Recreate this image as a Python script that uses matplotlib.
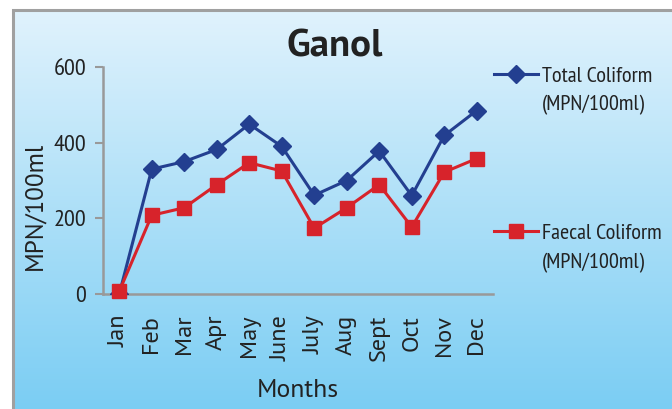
import numpy as np
import matplotlib
matplotlib.use('Agg')
import matplotlib.pyplot as plt
from matplotlib.patches import Rectangle

plt.rcParams['font.family'] = ['PT Sans', 'DejaVu Sans']
narrow = ['PT Sans Narrow', 'DejaVu Sans']

# Data
months = ['Jan', 'Feb', 'Mar', 'Apr', 'May', 'June', 'July', 'Aug', 'Sept', 'Oct', 'Nov', 'Dec']
total_coliform = [0, 330, 350, 382, 449, 390, 261, 300, 378, 260, 419, 485]
faecal_coliform = [7, 208, 228, 289, 347, 325, 174, 228, 289, 177, 322, 358]
series_names = ['Total Coliform', 'Faecal Coliform']
unit = '(MPN/100ml)'

fig = plt.figure(figsize=(6.72, 4.09), dpi=100)

# gradient background panel (runs off the right and bottom edges)
bg = fig.add_axes([13 / 672, -0.1, 1.1, 1.1 - 10 / 409])
grad = np.linspace(0, 1, 256).reshape(-1, 1)
top = np.array([0.88, 0.95, 0.99])
bottom = np.array([0.44, 0.79, 0.95])
img = top + grad[:, :, None] * (bottom - top)
bg.imshow(img, aspect='auto', extent=[0, 1, 0, 1], origin='upper')
bg.add_patch(Rectangle((0, 0), 1, 1, fill=False, edgecolor='#a0a0a0', lw=2.2,
                       transform=bg.transAxes, clip_on=False))
bg.set_axis_off()

ax = fig.add_axes([103 / 672, 1 - 294 / 409, 390 / 672, 227 / 409])
ax.patch.set_alpha(0)
x = np.arange(len(months))
l1, = ax.plot(x, total_coliform, color='#233f90', lw=2.2, marker='D', markersize=9.5,
              zorder=3)
l2, = ax.plot(x, faecal_coliform, color='#d7232b', lw=2.2, marker='s', markersize=10,
              zorder=4, clip_on=False)

ax.set_xlim(-0.5, 11.5)
ax.set_ylim(0, 600)
ax.set_yticks([0, 200, 400, 600])
ax.set_yticklabels(['0', '200', '400', '600'], family=narrow)
ax.set_xticks(x)
ax.set_xticklabels(months, rotation=90, fontsize=17.5, color='#222222')
ax.tick_params(axis='x', length=0, pad=15)
ax.tick_params(axis='y', length=6, width=1.5, color='#999999', labelsize=17.5,
               labelcolor='#222222', pad=6)
for s in ['top', 'right']:
    ax.spines[s].set_visible(False)
for s in ['left', 'bottom']:
    ax.spines[s].set_color('#999999')
    ax.spines[s].set_linewidth(1.8)

ax.set_ylabel('MPN/100ml', fontsize=18, color='#222222')
ax.yaxis.set_label_coords(-0.145, 0.39)
ax.set_xlabel('Months', fontsize=18.5, color='#222222')
ax.xaxis.set_label_coords(0.5, -0.375)
fig.text(335 / 672, 1 - 47 / 409, 'Ganol', fontsize=28, fontweight='bold',
         ha='center', va='center', color='#222222')

leg = ax.legend([l1, l2], series_names, loc='upper left',
                bbox_to_anchor=(494 / 672, 1 - 66 / 409), bbox_transform=fig.transFigure,
                frameon=False, prop={'family': narrow, 'size': 16}, labelspacing=6.2,
                handlelength=2.0, handletextpad=0.15, borderpad=0, borderaxespad=0)
for t in leg.get_texts():
    t.set_color('#222222')
    ax.annotate(unit, xy=(0, 0), xycoords=t, xytext=(0, -7), textcoords='offset points',
                va='top', ha='left', family=narrow, fontsize=16, color='#222222',
                zorder=6, annotation_clip=False)

fig.savefig('out.png', dpi=100)
